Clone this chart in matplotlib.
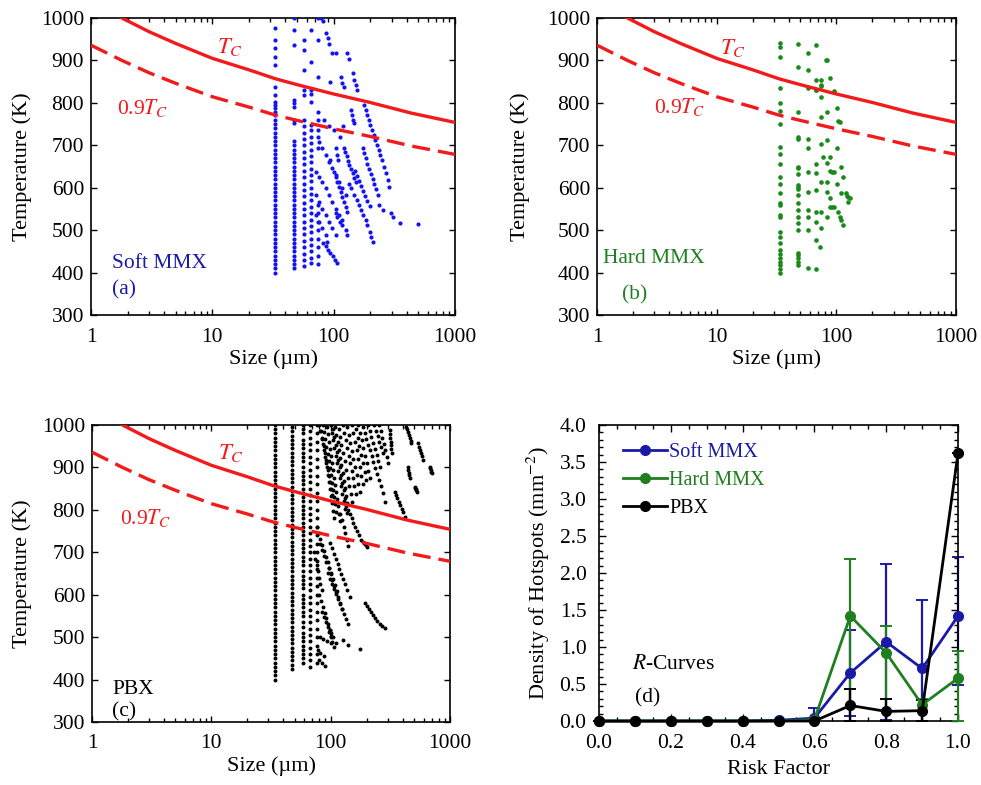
import numpy as np
import matplotlib
matplotlib.use("Agg")
import matplotlib.pyplot as plt
from matplotlib.ticker import MultipleLocator, LogLocator, NullFormatter, FixedLocator, FormatStrFormatter

plt.rcParams['font.family'] = ['Liberation Serif', 'DejaVu Serif']
plt.rcParams['mathtext.fontset'] = 'stix'

# critical temperature curve
TC_SIZE = [1, 1.8, 3, 5, 10, 20, 33, 50, 100, 200, 436, 1000]
TC_TEMP = [1040, 1000, 968, 940, 905, 878, 857, 843, 821, 801, 776, 754]

# ---------------- (a) Soft MMX ----------------
SOFT_COL_SIZE = [33, 47, 57, 65, 74]
SOFT_COL_TEMP = [
    [976, 948, 929, 909, 889, 838, 818, 803, 795, 787, 779, 771, 760, 750, 740, 730, 720, 710, 700, 690, 680,
     670, 660, 650, 640, 630, 620, 610, 600, 590, 580, 570, 560, 550, 540, 530, 520, 510, 500, 490, 480, 470,
     460, 450, 440, 430, 420, 410, 400],
    [1000, 972, 936, 807, 799, 791, 760, 752, 710, 700, 690, 680, 670, 660, 650, 640, 630, 620, 610, 600, 590,
     580, 570, 560, 550, 540, 530, 520, 510, 500, 490, 480, 470, 460, 450, 440, 430, 420, 410],
    [948, 925, 877, 830, 818, 760, 745, 730, 715, 700, 685, 670, 655, 640, 625, 610, 595, 580, 565, 550, 535,
     520, 505, 490, 475, 460, 445, 430, 415],
    [972, 897, 830, 822, 803, 748, 735, 720, 705, 690, 675, 660, 645, 630, 615, 600, 585, 570, 555, 540, 525,
     510, 495, 480, 465, 450, 435, 422],
    [1000, 948, 862, 779, 760, 736, 720, 693, 560, 540, 520, 500, 480, 460, 440, 420],
]
SOFT_STREAK_SIZE = [
    [178, 183, 189, 195, 201, 207, 214, 221, 228, 235, 243, 251, 260, 269, 278, 287],
    [173, 178, 184, 190, 196, 203, 210, 217, 225, 230],
    [122, 125, 128, 131, 135, 139, 143, 147, 152],
    [134, 140, 147, 155, 162, 169, 176, 184, 190, 199, 205, 209],
    [101, 104, 107, 111, 114, 118, 122, 126, 128],
    [104, 107, 113, 118, 126, 130],
    [76, 80, 86, 91, 97, 104, 110, 118, 126],
    [71, 76, 80, 86, 91, 97, 104, 110, 118],
    [71, 76, 80, 86, 91, 97, 104],
    [71, 76, 80, 86, 88],
    [82, 86, 90, 94, 98, 102, 106],
    [150, 156, 162, 168, 175, 182, 190, 198],
    [97, 105, 130, 134, 94, 114, 118, 122, 143, 147, 152, 157, 138, 141, 144, 147, 87, 89, 91, 79, 81,
     237, 253, 296, 306, 350, 491, 94, 104, 106, 109, 84, 92, 100, 112, 120],
]
SOFT_STREAK_TEMP = [
    [795, 783, 771, 759, 748, 736, 724, 713, 701, 689, 677, 665, 650, 634, 618, 602],
    [693, 681, 669, 657, 645, 633, 621, 609, 597, 583],
    [693, 684, 674, 664, 654, 644, 634, 624, 614],
    [610, 599, 583, 571, 559, 547, 536, 524, 512, 496, 485, 473],
    [638, 626, 614, 602, 591, 579, 567, 555, 544],
    [540, 532, 520, 512, 500, 489],
    [709, 693, 677, 661, 646, 630, 614, 599, 583],
    [638, 626, 614, 599, 583, 567, 551, 536, 524],
    [583, 567, 551, 536, 520, 504, 489],
    [536, 520, 504, 489, 473],
    [470, 462, 454, 446, 438, 430, 422],
    [640, 628, 616, 604, 592, 580, 568, 556],
    [917, 917, 917, 903, 850, 862, 846, 838, 870, 854, 842, 830, 783, 771, 760, 752, 965, 952, 940, 999, 993,
     559, 547, 540, 532, 516, 514, 665, 693, 677, 665, 760, 745, 735, 720, 745],
]

# ---------------- (b) Hard MMX ----------------
HARD_COL_SIZE = [34, 48, 58]
HARD_COL_TEMP = [
    [942, 931, 909, 834, 800, 781, 750, 695, 679, 656, 626, 610, 588, 563, 559, 536, 530, 496, 483, 469, 453,
     445, 434, 426, 418, 408, 400],
    [940, 885, 779, 720, 716, 650, 646, 632, 606, 602, 598, 583, 563, 548, 532, 516, 500, 447, 441, 434, 426,
     418],
    [917, 877, 834, 716, 693, 638, 591, 548, 532, 500, 410],
]
HARD_PT_SIZE = [68, 83, 75, 88, 75, 68, 96, 75, 101, 84, 75, 107, 83, 75, 101, 77, 88, 67, 84, 110, 92, 95,
                68, 114, 83, 101, 75, 67, 83, 88, 110, 122, 130, 126, 88, 92, 95, 104, 107, 110, 114, 68, 75,
                83, 67, 75, 67, 73, 67, 82, 96, 104, 89, 121, 126, 68, 74, 67]
HARD_PT_TEMP = [936, 900, 854, 858, 842, 830, 826, 815, 787, 779, 767, 756, 712, 704, 693, 673, 673, 657,
                659, 650, 638, 638, 634, 626, 614, 610, 614, 595, 591, 575, 587, 581, 575, 567, 555, 555, 554,
                544, 532, 524, 512, 544, 544, 532, 520, 504, 477, 461, 408, 901, 829, 758, 640, 587, 579, 855,
                841, 830]

# ---------------- (c) PBX ----------------
PBX_COL_SIZE = [34, 47, 59, 67, 76]
PBX_COL_TEMP = [
    [400, 410, 420, 430, 440, 450, 460, 470, 480, 490, 500, 510, 520, 530, 540, 550, 560, 570, 580, 590, 600,
     610, 620, 630, 640, 650, 660, 670, 680, 690, 700, 710, 720, 730, 740, 750, 760, 770, 780, 790, 800, 810,
     820, 830, 840, 850, 860, 870, 880, 890, 900, 910, 920, 930, 940, 950, 960, 970, 980, 990, 1000],
    [425, 435, 445, 455, 465, 475, 485, 495, 505, 515, 525, 535, 545, 555, 565, 575, 585, 595, 605, 615, 625,
     635, 645, 655, 665, 675, 685, 695, 705, 715, 725, 735, 745, 755, 765, 775, 785, 795, 805, 815, 825, 835,
     845, 855, 865, 875, 885, 895, 905, 915, 925, 935, 945, 955, 965, 975, 985, 995],
    [1000, 990, 980, 965, 955, 945, 935, 925, 915, 900, 890, 880, 870, 860, 850, 840, 830, 820, 810, 800, 790,
     780, 770, 760, 750, 740, 730, 720, 710, 700, 690, 680, 670, 655, 645, 635, 625, 615, 600, 590, 580, 570,
     560, 550, 535, 525, 510, 500, 490, 480, 470, 460, 450, 440],
    [1000, 985, 970, 955, 940, 925, 910, 895, 880, 865, 850, 835, 820, 805, 790, 775, 760, 745, 730, 715, 700,
     685, 670, 655, 640, 625, 610, 595, 580, 565, 550, 535, 520, 505, 490, 475, 460, 445, 430],
    [1000, 980, 960, 940, 920, 900, 880, 860, 840, 820, 800, 780, 760, 740, 720, 700, 680, 660, 640, 620, 600,
     580, 560, 540, 520, 500, 480, 460, 440],
]
PBX_STREAK_SIZE = [
    [80, 82, 84, 86, 88, 90, 92, 94, 96, 98, 100, 102],
    [86, 88, 90, 92, 94, 96, 98, 100, 102, 104, 106, 108, 110],
    [93, 95, 97, 99, 101, 103, 105, 107, 109, 111, 113, 115, 117, 119],
    [100, 102, 104, 107, 110, 113, 116, 119, 122, 125, 128, 131],
    [108, 111, 114, 117, 120, 123, 126, 129, 132, 135, 138],
    [117, 120, 123, 127, 131, 135, 139, 143, 147, 151],
    [126, 130, 134, 138, 142, 146, 150, 154, 158, 163],
    [137, 141, 145, 150, 155, 160, 165, 170, 175],
    [150, 155, 160, 165, 170, 175, 181, 187],
    [162, 168, 174, 180, 186, 192, 198],
    [187, 193, 199, 206, 213, 220, 228, 236, 245, 254, 263, 273, 283],
    [205, 212, 219, 226, 234, 242, 250, 258],
    [232, 240, 248, 256, 265, 274],
    [312, 314, 316, 318, 320, 322, 325],
    [343, 352, 362, 372, 382, 393, 404, 416],
    [430, 437, 444, 451, 458, 466, 473],
    [535, 545, 556, 567, 578, 590],
    [440, 445, 450, 455, 460],
    [505, 510, 515, 520, 525],
    [680, 685, 690, 695, 700],
    [83, 85, 87, 89, 91, 93, 95, 97, 99, 101, 103, 105, 107],
    [104, 107, 110, 113, 116, 119, 122, 125, 128, 131, 134, 137],
    [170, 176, 182, 188, 194, 200, 206, 212],
    [255, 262, 270, 278, 286, 294, 302],
    [76, 79, 82, 85, 88, 91, 94, 97, 100, 103, 106, 110],
    [82, 85, 88, 92, 96, 100, 104, 108, 112, 116, 120, 125],
    [98, 102, 106, 110, 114, 118, 122, 127, 132, 138, 144],
    [95, 99, 103, 107, 111, 115, 120, 125, 130, 135, 140],
    [80, 83, 86, 89, 92, 95, 98, 101],
    [72, 74, 76, 78, 80, 82, 84],
    [85, 88, 91, 94, 97, 100, 103, 106],
    [193, 200, 208, 216, 225, 235, 245, 257, 270, 283],
    [187, 190, 194, 197, 200],
    [140, 145, 150, 155, 160, 166, 172, 178],
    [120, 124, 128, 132, 136, 140],
    [98, 101, 104, 110, 126, 139, 175, 81, 86, 93, 100, 78, 82, 87, 80, 85, 90],
]
PBX_STREAK_TEMP = [
    [1000, 985, 970, 955, 940, 925, 910, 895, 880, 865, 850, 835],
    [1000, 983, 966, 949, 932, 915, 898, 881, 864, 847, 830, 813, 796],
    [995, 978, 961, 944, 927, 910, 893, 876, 859, 842, 825, 808, 791, 774],
    [1000, 982, 964, 946, 928, 910, 892, 874, 856, 838, 820, 802],
    [995, 977, 959, 941, 923, 905, 887, 869, 851, 833, 815],
    [990, 971, 952, 933, 914, 895, 876, 857, 838, 819],
    [1000, 982, 964, 946, 928, 910, 892, 874, 856, 838],
    [995, 976, 957, 938, 919, 900, 881, 862, 843],
    [1000, 980, 960, 940, 920, 900, 880, 860],
    [990, 970, 950, 930, 910, 890, 870],
    [996, 982, 968, 954, 940, 926, 912, 898, 884, 870, 856, 840, 819],
    [1000, 986, 972, 958, 944, 930, 916, 902],
    [1000, 987, 974, 961, 948, 935],
    [988, 979, 970, 961, 952, 943, 933],
    [843, 835, 827, 819, 811, 803, 794, 784],
    [996, 990, 983, 977, 970, 963, 957],
    [957, 949, 941, 933, 926, 918],
    [902, 895, 888, 881, 874],
    [855, 852, 849, 846, 843],
    [902, 898, 894, 890, 886],
    [985, 968, 951, 934, 917, 900, 883, 866, 849, 832, 815, 798, 781],
    [990, 972, 954, 936, 918, 900, 882, 864, 846, 828, 810, 792],
    [1000, 982, 964, 946, 928, 910, 892, 874],
    [1000, 985, 970, 955, 940, 925, 910],
    [760, 746, 732, 718, 704, 690, 676, 662, 648, 634, 620, 606],
    [720, 706, 692, 678, 664, 650, 636, 622, 608, 594, 580, 566],
    [721, 709, 697, 685, 673, 661, 649, 637, 625, 610, 595],
    [650, 638, 626, 614, 602, 590, 578, 566, 554, 542, 530],
    [600, 586, 572, 558, 544, 530, 516, 502],
    [700, 685, 670, 655, 640, 625, 610],
    [560, 548, 536, 524, 512, 500, 488, 476],
    [580, 573, 566, 559, 552, 545, 538, 532, 526, 521],
    [725, 722, 719, 716, 713],
    [800, 790, 780, 770, 760, 750, 740, 730],
    [790, 775, 760, 745, 730, 715],
    [517, 509, 501, 485, 493, 481, 471, 500, 495, 490, 485, 470, 462, 455, 445, 438, 432],
]

# ---------------- (d) R-curves ----------------
RISK = [0.0, 0.1, 0.2, 0.3, 0.4, 0.5, 0.6, 0.7, 0.8, 0.9, 1.0]
SOFT_DENS = [0, 0, 0, 0, 0, 0.01, 0.04, 0.65, 1.07, 0.71, 1.42]
SOFT_ERR_LO = [0, 0, 0, 0, 0, 0, 0.04, 0.58, 1.05, 0.71, 0.93]
SOFT_ERR_HI = [0, 0, 0, 0, 0, 0, 0.13, 0.58, 1.05, 0.92, 0.80]
HARD_DENS = [0, 0, 0, 0, 0, 0, 0.02, 1.42, 0.92, 0.22, 0.58]
HARD_ERR_LO = [0, 0, 0, 0, 0, 0, 0.02, 1.42, 0.92, 0.22, 0.58]
HARD_ERR_HI = [0, 0, 0, 0, 0, 0, 0.02, 0.77, 0.37, 0.08, 0.37]
PBX_DENS = [0, 0, 0, 0, 0, 0, 0, 0.21, 0.13, 0.14, 3.62]
PBX_ERR_LO = [0, 0, 0, 0, 0, 0, 0, 0.21, 0.13, 0.14, 0]
PBX_ERR_HI = [0, 0, 0, 0, 0, 0, 0, 0.22, 0.17, 0.15, 0]

BLUE_PT = '#1414f0'
BLUE = '#1a1aa6'
GREEN = '#1f7f1f'
GREEN_PT = '#178a17'
RED = '#f21a1a'
FS = 15.5


def gather(col_size, col_temp, streak_size, streak_temp):
    xs, ys = [], []
    for s, temps in zip(col_size, col_temp):
        xs += [s] * len(temps)
        ys += temps
    for ss, tt in zip(streak_size, streak_temp):
        xs += ss
        ys += tt
    return np.array(xs, float), np.array(ys, float)


def style_size_axes(ax):
    ax.set_xscale('log')
    ax.set_xlim(1, 1000)
    ax.set_ylim(300, 1000)
    ax.yaxis.set_major_locator(MultipleLocator(100))
    ax.xaxis.set_major_locator(FixedLocator([1, 10, 100, 1000]))
    ax.xaxis.set_minor_locator(LogLocator(base=10, subs=np.arange(2, 10)))
    ax.xaxis.set_minor_formatter(NullFormatter())
    ax.set_xticklabels(['1', '10', '100', '1000'])
    ax.tick_params(which='both', direction='in', top=True, right=True, labelsize=FS, width=1.0)
    ax.tick_params(which='major', length=4)
    ax.tick_params(which='minor', length=3)
    ax.tick_params(axis='x', pad=9)
    ax.tick_params(axis='y', pad=5)
    for sp in ax.spines.values():
        sp.set_linewidth(1.2)
    tc = np.array(TC_TEMP, float)
    ax.plot(TC_SIZE, tc, color=RED, lw=2.4, zorder=5)
    ax.plot(TC_SIZE, 0.9 * tc, color=RED, lw=2.4, dashes=(5.4, 2.4), zorder=5)
    ax.set_xlabel('Size (µm)', fontsize=FS + 0.5)
    ax.xaxis.set_label_coords(0.5, -0.115)
    ax.set_ylabel('Temperature (K)', fontsize=FS + 0.5)


fig = plt.figure(figsize=(9.81, 7.85), dpi=100)

# (a)
ax = fig.add_axes([0.0928, 0.5987, 0.371, 0.3783])
x, y = gather(SOFT_COL_SIZE, SOFT_COL_TEMP, SOFT_STREAK_SIZE, SOFT_STREAK_TEMP)
ax.scatter(x, y, s=9, color=BLUE_PT, linewidths=0, zorder=3)
style_size_axes(ax)
ax.yaxis.set_label_coords(-0.162, 0.5)
ax.text(0.346, 0.902, '$T_C$', color=RED, fontsize=FS + 1, transform=ax.transAxes, va='center')
ax.text(0.071, 0.697, '0.9$T_C$', color=RED, fontsize=FS, transform=ax.transAxes, va='center')
ax.text(0.058, 0.175, 'Soft MMX', color=BLUE, fontsize=FS, transform=ax.transAxes, va='center')
ax.text(0.058, 0.084, '(a)', color=BLUE, fontsize=FS, transform=ax.transAxes, va='center')

# (b)
ax = fig.add_axes([0.6086, 0.5987, 0.366, 0.3783])
x, y = gather(HARD_COL_SIZE, HARD_COL_TEMP, [HARD_PT_SIZE], [HARD_PT_TEMP])
ax.scatter(x, y, s=11, color=GREEN_PT, linewidths=0, zorder=3)
style_size_axes(ax)
ax.yaxis.set_label_coords(-0.187, 0.5)
ax.text(0.343, 0.90, '$T_C$', color=RED, fontsize=FS + 1, transform=ax.transAxes, va='center')
ax.text(0.16, 0.70, '0.9$T_C$', color=RED, fontsize=FS, transform=ax.transAxes, va='center')
ax.text(0.017, 0.19, 'Hard MMX', color=GREEN, fontsize=FS, transform=ax.transAxes, va='center')
ax.text(0.07, 0.067, '(b)', color=GREEN, fontsize=FS, transform=ax.transAxes, va='center')

# (c)
ax = fig.add_axes([0.0938, 0.0803, 0.365, 0.3783])
x, y = gather(PBX_COL_SIZE, PBX_COL_TEMP, PBX_STREAK_SIZE, PBX_STREAK_TEMP)
ax.scatter(x, y, s=8, color='black', linewidths=0, zorder=3)
style_size_axes(ax)
ax.yaxis.set_label_coords(-0.168, 0.5)
ax.text(0.352, 0.906, '$T_C$', color=RED, fontsize=FS + 1, transform=ax.transAxes, va='center')
ax.text(0.078, 0.687, '0.9$T_C$', color=RED, fontsize=FS, transform=ax.transAxes, va='center')
ax.text(0.056, 0.108, 'PBX', color='black', fontsize=FS, transform=ax.transAxes, va='center')
ax.text(0.056, 0.035, '(c)', color='black', fontsize=FS, transform=ax.transAxes, va='center')

# (d)
ax = fig.add_axes([0.6106, 0.0815, 0.366, 0.377])
series = [(SOFT_DENS, SOFT_ERR_LO, SOFT_ERR_HI, BLUE, 'Soft MMX'),
          (HARD_DENS, HARD_ERR_LO, HARD_ERR_HI, GREEN, 'Hard MMX'),
          (PBX_DENS, PBX_ERR_LO, PBX_ERR_HI, 'black', 'PBX')]
for i, (vals, lo, hi, c, lab) in enumerate(series):
    ax.errorbar(RISK, vals, yerr=[lo, hi], fmt='none', ecolor=c, elinewidth=1.6, capsize=4.5,
                capthick=1.4, zorder=2 + i, clip_on=False)
    ax.plot(RISK, vals, '-o', color=c, lw=2.0, ms=7, label=lab, zorder=4 + i, clip_on=False)
ax.set_xlim(0, 1)
ax.set_ylim(0, 4)
ax.xaxis.set_major_locator(MultipleLocator(0.2))
ax.xaxis.set_minor_locator(MultipleLocator(0.05))
ax.yaxis.set_major_locator(MultipleLocator(0.5))
ax.yaxis.set_minor_locator(MultipleLocator(0.1))
ax.xaxis.set_major_formatter(FormatStrFormatter('%.1f'))
ax.yaxis.set_major_formatter(FormatStrFormatter('%.1f'))
ax.tick_params(which='both', direction='in', top=True, right=True, labelsize=FS, width=1.0)
ax.tick_params(which='major', length=5)
ax.tick_params(which='minor', length=3)
ax.tick_params(axis='x', pad=9)
ax.tick_params(axis='y', pad=9)
for sp in ax.spines.values():
    sp.set_linewidth(1.2)
ax.set_xlabel('Risk Factor', fontsize=FS + 0.5)
ax.xaxis.set_label_coords(0.5, -0.132)
ax.set_ylabel('Density of Hotspots (mm$^{-2}$)', fontsize=FS + 0.5)
ax.yaxis.set_label_coords(-0.131, 0.5)
ax.legend(loc='upper left', bbox_to_anchor=(0.067, 0.94), frameon=False, fontsize=FS - 1,
          handlelength=2.2, handletextpad=0.1, numpoints=1, borderpad=0, borderaxespad=0,
          labelspacing=0.45, labelcolor='linecolor')
ax.text(0.092, 0.19, '$\\mathit{R}$-Curves', fontsize=FS, transform=ax.transAxes, va='center')
ax.text(0.10, 0.078, '(d)', fontsize=FS, transform=ax.transAxes, va='center')

fig.savefig('out.png', dpi=100)
